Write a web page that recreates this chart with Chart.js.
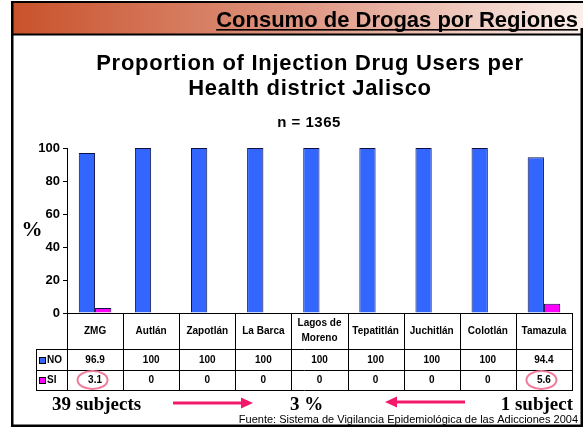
<!DOCTYPE html>
<html>
<head>
<meta charset="utf-8">
<script src="https://cdn.jsdelivr.net/npm/chart.js@4"></script>
<style>
  html, body { margin: 0; padding: 0; background: #fff; }
</style>
</head>
<body>
<canvas id="chart" width="585" height="431"></canvas>
<script>
// values
const regions = ['ZMG', 'Autlán', 'Zapotlán', 'La Barca', ['Lagos de', 'Moreno'], 'Tepatitlán', 'Juchitlán', 'Colotlán', 'Tamazula'];
const noValues = [96.9, 100, 100, 100, 100, 100, 100, 100, 94.4];
const siValues = [3.1, 0, 0, 0, 0, 0, 0, 0, 5.6];
const noLabels = ['96.9', '100', '100', '100', '100', '100', '100', '100', '94.4'];
const siLabels = ['3.1', '0', '0', '0', '0', '0', '0', '0', '5.6'];
const circled = [0, 8];

const SANS = '"Liberation Sans", Arial, sans-serif';
const SERIF = '"Liberation Serif", "Times New Roman", serif';
const PINK = '#F2186A';

// everything around the plot: frame, header, titles, data table, notes
const slide = {
  id: 'slide',
  beforeDraw(chart) {
    const c = chart.ctx;
    c.save();
    c.fillStyle = '#fff';
    c.fillRect(0, 0, chart.width, chart.height);

    const g = c.createLinearGradient(13, 0, 583, 0);
    g.addColorStop(0, '#C9522B');
    g.addColorStop(0.5, '#DE9581');
    g.addColorStop(1, '#FBEFEA');
    c.fillStyle = g;
    c.fillRect(13, 3, 570, 31);
    c.fillStyle = '#000';
    c.fillRect(13, 33.5, 568, 2);

    c.font = 'bold 22px ' + SANS;
    c.textAlign = 'right';
    c.textBaseline = 'alphabetic';
    c.fillText('Consumo de Drogas por Regiones', 578, 27);
    const w = c.measureText('Consumo de Drogas por Regiones').width;
    c.fillRect(578 - w, 29, w, 1.6);

    c.textAlign = 'center';
    c.letterSpacing = '0.7px';
    c.font = 'bold 22px ' + SANS;
    c.fillText('Proportion of Injection Drug Users per', 310, 70);
    c.fillText('Health district Jalisco', 310, 95);
    c.letterSpacing = '0.5px';
    c.font = 'bold 15px ' + SANS;
    c.fillText('n = 1365', 309, 127);
    c.letterSpacing = '0px';
    c.restore();
  },
  afterDraw(chart) {
    const c = chart.ctx;
    const x = chart.scales.x;
    const area = chart.chartArea;
    const step = (area.right - area.left) / regions.length;
    const top = area.bottom, r1 = 349, r2 = 370, r3 = 390, legL = 36;
    c.save();

    // table grid
    c.strokeStyle = '#000';
    c.lineWidth = 1;
    c.beginPath();
    for (let i = 0; i <= regions.length; i++) {
      const vx = Math.round(area.left + i * step) + 0.5;
      c.moveTo(vx, top);
      c.lineTo(vx, r3);
    }
    c.moveTo(legL + 0.5, r1);
    c.lineTo(legL + 0.5, r3);
    [r1, r2, r3].forEach(ry => {
      c.moveTo(legL, ry + 0.5);
      c.lineTo(area.right + 1, ry + 0.5);
    });
    c.stroke();

    // table text
    c.fillStyle = '#000';
    c.textAlign = 'center';
    c.textBaseline = 'middle';
    c.font = 'bold 10px ' + SANS;
    regions.forEach((name, i) => {
      const cx = x.getPixelForValue(i);
      if (Array.isArray(name)) {
        c.fillText(name[0], cx, 323);
        c.fillText(name[1], cx, 338);
      } else {
        c.fillText(name, cx, 331);
      }
      c.fillText(noLabels[i], cx, 360);
      c.fillText(siLabels[i], cx, 380.5);
    });

    // legend keys
    c.textAlign = 'left';
    c.fillStyle = '#3366FF';
    c.fillRect(39, 357, 6, 6);
    c.fillStyle = '#FF00FF';
    c.fillRect(39, 377, 6, 6);
    c.strokeStyle = '#000';
    c.strokeRect(39.5, 357.5, 6, 6);
    c.strokeRect(39.5, 377.5, 6, 6);
    c.fillStyle = '#000';
    c.fillText('NO', 47, 360.5);
    c.fillText('SI', 47, 380.5);

    // circled values
    c.strokeStyle = '#F07C9C';
    c.lineWidth = 2;
    circled.forEach(i => {
      c.beginPath();
      c.ellipse(x.getPixelForValue(i) - 2.5, 380, 15, 9, 0, 0, Math.PI * 2);
      c.stroke();
    });

    // y axis label
    c.font = 'bold 21px ' + SERIF;
    c.textAlign = 'center';
    c.fillText('%', 32, (area.top + area.bottom) / 2);

    // notes under the table
    c.font = 'bold 19px ' + SERIF;
    c.textBaseline = 'alphabetic';
    c.textAlign = 'left';
    c.fillText('39 subjects', 52, 410);
    c.fillText('3 %', 290, 410);
    c.textAlign = 'right';
    c.fillText('1 subject', 573, 410);

    const arrow = (x0, x1, y) => {
      const dir = Math.sign(x1 - x0);
      c.strokeStyle = PINK;
      c.fillStyle = PINK;
      c.lineWidth = 3;
      c.beginPath();
      c.moveTo(x0, y);
      c.lineTo(x1 - dir * 10, y);
      c.stroke();
      c.beginPath();
      c.moveTo(x1, y);
      c.lineTo(x1 - dir * 12, y - 5.5);
      c.lineTo(x1 - dir * 12, y + 5.5);
      c.closePath();
      c.fill();
    };
    arrow(173, 253, 403);
    arrow(465, 385, 402);

    c.fillStyle = '#000';
    c.font = '11px ' + SANS;
    c.textAlign = 'right';
    c.fillText('Fuente: Sistema de Vigilancia Epidemiológica de las Adicciones 2004', 578, 423);

    // slide frame
    c.fillStyle = '#000';
    c.fillRect(11, 1, 572, 2);
    c.fillRect(11, 1, 2.5, 426);
    c.fillRect(580.5, 28, 2.5, 399);
    c.fillRect(11, 424.5, 572, 2.5);
    c.restore();
  }
};

new Chart(document.getElementById('chart'), {
  type: 'bar',
  data: {
    labels: regions,
    datasets: [
      {
        label: 'NO',
        data: noValues,
        backgroundColor: '#3366FF',
        borderColor: '#101040',
        borderWidth: ctx => (ctx.raw ? 1 : 0)
      },
      {
        label: 'SI',
        data: siValues,
        backgroundColor: '#FF00FF',
        borderColor: '#101040',
        borderWidth: ctx => (ctx.raw ? 1 : 0)
      }
    ]
  },
  options: {
    responsive: false,
    animation: false,
    events: [],
    layout: { padding: { left: 30, right: 13, top: 148, bottom: 118 } },
    datasets: { bar: { categoryPercentage: 0.58, barPercentage: 1 } },
    plugins: { legend: { display: false }, tooltip: { enabled: false }, title: { display: false } },
    scales: {
      x: {
        ticks: { display: false },
        grid: { display: false },
        border: { color: '#000', width: 1 },
        afterFit: s => { s.height = 0; }
      },
      y: {
        min: 0,
        max: 100,
        ticks: { stepSize: 20, color: '#000', padding: 3, font: { family: SANS, size: 13, weight: 'bold' } },
        grid: { drawOnChartArea: false, drawTicks: true, tickLength: 4, color: '#000' },
        border: { color: '#000', width: 1 },
        afterFit: s => { s.width = 37; }
      }
    }
  },
  plugins: [slide]
});
</script>
</body>
</html>
